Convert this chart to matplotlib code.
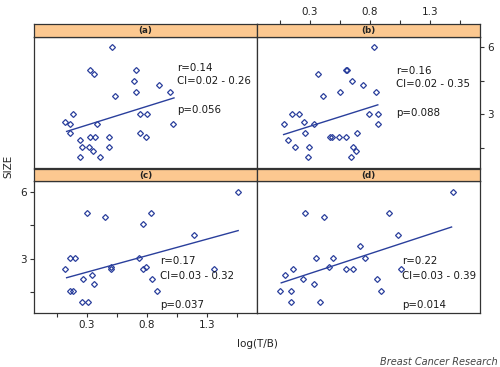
import matplotlib
matplotlib.use("Agg")
import matplotlib.pyplot as plt
from matplotlib.patches import Rectangle

# data: log(T/B) vs SIZE, four panels
a_x = [0.51, 0.325, 0.36, 0.71, 0.69, 0.71, 0.90, 0.99, 0.53, 0.18, 0.12, 0.16, 0.155,
       0.38, 0.74, 0.80, 1.02, 0.24, 0.325, 0.37, 0.48, 0.745, 0.79, 0.26, 0.32, 0.35,
       0.48, 0.24, 0.405]
a_y = [6.0, 5.0, 4.8, 5.0, 4.5, 4.0, 4.3, 4.0, 3.8, 3.0, 2.65, 2.55, 2.15,
       2.55, 3.0, 3.0, 2.55, 1.85, 2.0, 2.0, 2.0, 2.15, 2.0, 1.55, 1.55, 1.35,
       1.55, 1.1, 1.1]
b_x = [0.83, 0.60, 0.61, 0.37, 0.65, 0.74, 0.55, 0.85, 0.41, 0.15, 0.21, 0.79, 0.865,
       0.08, 0.25, 0.33, 0.865, 0.26, 0.12, 0.47, 0.48, 0.54, 0.60, 0.69, 0.175, 0.295,
       0.66, 0.68, 0.285, 0.645]
b_y = [6.0, 5.0, 5.0, 4.8, 4.5, 4.3, 4.0, 4.0, 3.8, 3.0, 3.0, 3.0, 3.0,
       2.55, 2.65, 2.55, 2.55, 2.15, 1.85, 2.0, 2.0, 2.0, 2.0, 2.15, 1.55, 1.55,
       1.55, 1.35, 1.1, 1.1]
c_x = [1.56, 0.30, 0.83, 0.45, 0.765, 1.195, 0.16, 0.20, 0.73, 0.12, 0.34, 0.50, 0.50,
       0.765, 0.79, 1.36, 0.27, 0.845, 0.36, 0.16, 0.18, 0.88, 0.26, 0.31]
c_y = [6.0, 5.05, 5.05, 4.85, 4.55, 4.05, 3.05, 3.05, 3.05, 2.55, 2.25, 2.55, 2.65,
       2.55, 2.65, 2.55, 2.1, 2.1, 1.85, 1.55, 1.55, 1.55, 1.05, 1.05]
d_x = [1.49, 0.26, 0.955, 0.42, 1.03, 0.72, 0.35, 0.49, 0.755, 0.16, 0.455, 0.60, 0.66,
       1.055, 0.09, 0.24, 0.855, 0.33, 0.05, 0.14, 0.89, 0.14, 0.38]
d_y = [6.0, 5.05, 5.05, 4.85, 4.05, 3.55, 3.05, 3.05, 3.05, 2.55, 2.65, 2.55, 2.55,
       2.55, 2.25, 2.1, 2.1, 1.85, 1.55, 1.55, 1.55, 1.05, 1.05]

# regression line ends (x0, x1), (y0, y1)
fit_x = {"a": [0.13, 1.025], "b": [0.08, 0.865], "c": [0.13, 1.56], "d": [0.06, 1.48]}
fit_y = {"a": [2.23, 3.73], "b": [2.09, 3.42], "c": [2.15, 4.26], "d": [1.92, 4.42]}

stats = {
    "a": ["r=0.14", "CI=0.02 - 0.26", "p=0.056"],
    "b": ["r=0.16", "CI=0.02 - 0.35", "p=0.088"],
    "c": ["r=0.17", "CI=0.03 - 0.32", "p=0.037"],
    "d": ["r=0.22", "CI=0.03 - 0.39", "p=0.014"],
}

x_ticks = [0.05, 0.3, 0.55, 0.8, 1.05, 1.3, 1.55]
x_labels = ["", "0.3", "", "0.8", "", "1.3", ""]
y_ticks = [1.5, 3, 4.5, 6]
y_labels = ["", "3", "", "6"]

W, H = 500, 367
XLIM = (-0.142, 1.717)
blue = "#2a3f9c"
strip_col = "#fcc890"
edge = "#333333"

fig = plt.figure(figsize=(5, 3.67), dpi=100)


def box(l, t, w, h):
    # pixel box -> figure fraction
    return [l / W, 1 - (t + h) / H, w / W, h / H]


panels = {
    "a": (a_x, a_y, 34, 36.5, 0.64, [0.765, 0.66, 0.44]),
    "b": (b_x, b_y, 257, 36.5, 0.625, [0.742, 0.642, 0.417]),
    "c": (c_x, c_y, 34, 181, 0.565, [0.396, 0.28, 0.061]),
    "d": (d_x, d_y, 257, 181, 0.65, [0.396, 0.28, 0.061]),
}
pw, ph = 223, 132
tick_kw = dict(direction="out", length=3, width=0.8, colors=edge,
               labelsize=7.5, labelcolor="#222222", pad=2)

for key, (xs, ys, left, top, tx, tys) in panels.items():
    ax = fig.add_axes(box(left, top, pw, ph))
    ax.plot(xs, ys, linestyle="none", marker="D", markersize=3.0,
            markerfacecolor="none", markeredgecolor=blue, markeredgewidth=0.9)
    ax.plot(fit_x[key], fit_y[key], color=blue, lw=1.0)
    ax.set_xlim(*XLIM)
    ax.set_ylim(0.57, 6.48)
    for s in ax.spines.values():
        s.set_color(edge)
        s.set_linewidth(0.9)
    ax.set_xticks(x_ticks)
    ax.set_yticks(y_ticks)
    ax.set_xticklabels(x_labels)
    ax.set_yticklabels(y_labels)
    ax.tick_params(bottom=False, top=False, left=False, right=False,
                   labelbottom=False, labeltop=False, labelleft=False,
                   labelright=False, **tick_kw)
    if key == "c":
        ax.tick_params(bottom=True, labelbottom=True, left=True, labelleft=True)
    if key == "b":
        ax.tick_params(right=True, labelright=True)
    for line, ty in zip(stats[key], tys):
        ax.text(tx, ty, line, transform=ax.transAxes, fontsize=7.4,
                color="#1a1a1a", va="center", ha="left")

    # strip on top
    sax = fig.add_axes(box(left, top - 12.5, pw, 12.5))
    sax.add_patch(Rectangle((XLIM[0], 0), XLIM[1] - XLIM[0], 1,
                            facecolor=strip_col, edgecolor="none"))
    sax.set_xlim(*XLIM)
    sax.set_ylim(0, 1)
    sax.set_yticks([])
    sax.set_xticks(x_ticks)
    sax.set_xticklabels(x_labels)
    sax.tick_params(bottom=False, labelbottom=False, top=False, labeltop=False,
                    **tick_kw)
    if key == "b":
        # top axis sits above the strip
        sax.tick_params(top=True, labeltop=True)
    for s in sax.spines.values():
        s.set_color(edge)
        s.set_linewidth(0.9)
    sax.text(0.5, 0.45, "(" + key + ")", transform=sax.transAxes,
             ha="center", va="center", fontsize=6.3, color="#222222",
             fontweight="bold")

fig.text(8 / W, 1 - 166 / H, "SIZE", rotation=90, ha="center", va="center",
         fontsize=7.5, color="#222222")
fig.text(257 / W, 1 - 344 / H, "log(T/B)", ha="center", va="center",
         fontsize=7.5, color="#222222")
fig.text(498 / W, 1 - 362 / H, "Breast Cancer Research", ha="right", va="center",
         fontsize=7, style="italic", color="#444444")

fig.savefig("out.png", dpi=100)
